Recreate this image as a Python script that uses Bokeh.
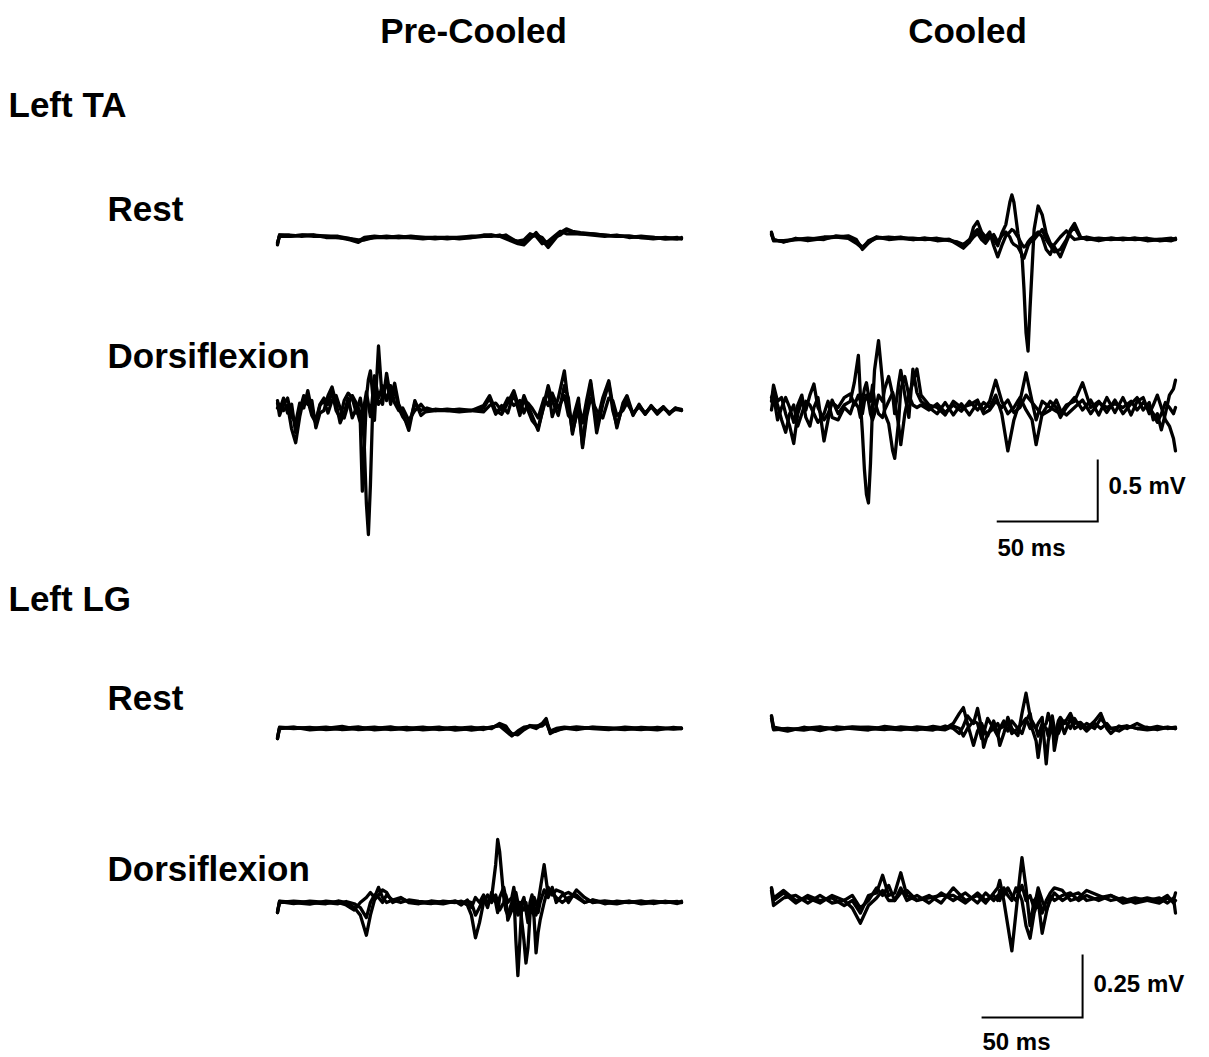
from bokeh.plotting import figure
from bokeh.models import Range1d
from bokeh.core.properties import value
from bokeh.embed import file_html
from bokeh.resources import INLINE

# ---------------------------------------------------------------- labels
column_titles = ["Pre-Cooled", "Cooled"]
muscle_names = ["Left TA", "Left LG"]
condition_names = ["Rest", "Dorsiflexion"]

# calibration bars
SCALE_MS = 50
SCALE_TA_MV = 0.5
SCALE_LG_MV = 0.25

# ---------------------------------------------------------------- EMG sweeps (time in ms, amplitude in mV)
# Left TA, rest, pre-cooled
t_ta_rest_pre = [0, 1, 6, 12, 18, 24, 30, 36, 40, 43, 48, 54, 60, 66, 72, 78, 84, 90, 96, 102,
                 106, 110, 113, 116, 119, 122, 125, 128, 131, 134, 137, 140, 143, 146, 150, 156, 162, 168, 174, 180,
                 186, 192, 198, 200]
ta_rest_pre_1 = [-0.05, 0.02, 0.02, 0.01, 0.02, 0.01, 0.0, -0.02, -0.04, -0.01, 0.0, 0.01, 0.0, 0.0, -0.01, 0.0, 0.0, -0.01, 0.0, 0.01,
                 0.02, 0.01, -0.01, -0.03, -0.05, -0.06, -0.01, 0.04, -0.02, -0.08, -0.02, 0.04, 0.07, 0.05, 0.04, 0.03, 0.02, 0.01, 0.01, 0.0,
                 -0.01, 0.0, -0.01, -0.01]
ta_rest_pre_2 = [-0.04, 0.01, 0.01, 0.02, 0.01, 0.01, 0.01, -0.01, -0.03, 0.0, 0.01, 0.0, 0.0, 0.01, 0.0, 0.0, -0.01, 0.0, 0.01, 0.01,
                 0.01, 0.02, 0.0, -0.02, -0.03, -0.02, 0.03, 0.01, -0.05, -0.03, 0.01, 0.05, 0.03, 0.03, 0.03, 0.02, 0.01, 0.02, 0.0, 0.01,
                 0.0, -0.01, 0.0, -0.01]
ta_rest_pre_3 = [-0.06, 0.02, 0.01, 0.02, 0.02, 0.0, 0.0, -0.01, -0.02, -0.02, 0.0, 0.0, 0.01, 0.0, 0.0, -0.01, 0.0, 0.0, 0.0, 0.02,
                 0.02, 0.01, 0.02, -0.01, -0.04, -0.04, 0.0, 0.02, 0.0, -0.06, 0.0, 0.02, 0.06, 0.04, 0.03, 0.03, 0.02, 0.01, 0.01, 0.0,
                 0.0, -0.01, -0.01, 0.0]

# Left TA, rest, cooled
t_ta_rest_cool = [0, 1, 6, 12, 18, 26, 32, 38, 42, 45, 48, 52, 58, 64, 70, 76, 82, 88, 92, 95,
                  98, 100, 102, 104, 106, 108, 110, 112, 114, 116, 118, 119, 120, 122, 124, 125, 126, 127, 128, 130,
                  132, 134, 136, 138, 140, 143, 146, 148, 150, 153, 156, 162, 168, 174, 180, 186, 192, 198, 200]
ta_rest_cool_1 = [0.06, 0.0, -0.02, 0.01, -0.01, 0.01, 0.02, 0.03, 0.0, -0.08, -0.03, 0.02, 0.01, 0.02, 0.0, 0.01, -0.01, 0.0, -0.03, -0.05,
                  -0.02, 0.02, 0.05, 0.0, -0.03, 0.02, 0.04, -0.02, 0.03, 0.06, 0.02, -0.02, -0.04, -0.06, -0.12, -0.4, -0.75, -0.9, -0.55, 0.08,
                  0.27, 0.2, 0.05, -0.03, -0.06, -0.14, -0.02, 0.06, 0.1, 0.01, 0.01, -0.01, 0.01, 0.0, 0.01, -0.01, 0.0, 0.01, 0.0]
ta_rest_cool_2 = [0.05, -0.01, -0.01, 0.0, 0.01, 0.0, 0.03, 0.02, -0.02, -0.06, -0.02, 0.01, 0.02, 0.01, 0.01, 0.0, 0.01, -0.01, -0.02, -0.04,
                  0.0, 0.05, 0.08, 0.03, 0.0, 0.04, 0.0, -0.05, 0.05, 0.12, 0.3, 0.36, 0.3, 0.05, -0.14, -0.15, -0.1, -0.05, -0.02, 0.0,
                  0.04, 0.08, 0.0, -0.05, -0.1, -0.08, 0.0, 0.08, 0.13, 0.02, 0.0, 0.01, 0.0, 0.01, 0.0, 0.01, -0.01, 0.0, 0.01]
ta_rest_cool_3 = [0.04, 0.0, -0.02, 0.0, 0.0, 0.02, 0.02, 0.01, -0.03, -0.07, -0.01, 0.02, 0.0, 0.01, 0.0, 0.01, 0.0, 0.0, -0.04, -0.07,
                  -0.02, 0.1, 0.145, 0.06, 0.02, 0.06, -0.05, -0.14, -0.05, 0.03, 0.06, 0.08, 0.07, 0.02, -0.04, -0.06, -0.05, -0.02, 0.0, 0.03,
                  0.06, 0.02, -0.08, -0.12, -0.04, 0.02, 0.07, 0.03, 0.0, 0.01, 0.02, 0.0, 0.01, 0.0, 0.01, 0.0, 0.0, -0.01, 0.0]

# Left TA, dorsiflexion, pre-cooled
t_ta_dorsi_pre = [0, 1, 3, 5, 7, 9, 11, 13, 15, 17, 19, 21, 23, 25, 27, 29, 31, 33, 35, 37,
                  39, 41, 42, 43, 44, 45, 46, 47, 48, 50, 52, 54, 56, 58, 60, 62, 65, 68, 71, 74,
                  78, 84, 90, 96, 102, 105, 108, 111, 114, 117, 120, 122, 124, 126, 129, 132, 134, 136, 139, 142,
                  144, 146, 149, 151, 153, 155, 158, 161, 164, 166, 168, 171, 173, 176, 179, 182, 185, 188, 191, 194,
                  197, 200]
ta_dorsi_pre_1 = [0.06, -0.04, 0.05, 0.1, -0.05, -0.1, 0.06, 0.02, 0.16, 0.0, -0.08, 0.05, 0.1, 0.05, 0.15, 0.0, -0.06, 0.08, 0.14, 0.1,
                  -0.02, 0.1, 0.0, -0.3, -0.75, -1.0, -0.6, -0.05, 0.2, 0.05, 0.1, 0.25, 0.05, 0.18, 0.02, -0.05, -0.12, 0.06, 0.0, 0.02,
                  0.0, 0.01, 0.0, 0.0, 0.02, 0.1, -0.03, 0.04, -0.02, 0.14, -0.04, 0.1, 0.0, -0.08, -0.14, 0.04, 0.18, -0.05, 0.1, 0.32,
                  0.05, -0.17, 0.02, -0.28, 0.0, 0.22, -0.18, 0.05, 0.22, 0.0, -0.12, 0.04, 0.1, -0.04, 0.05, -0.03, 0.04, -0.02, 0.03, -0.03,
                  0.02, 0.0]
ta_dorsi_pre_2 = [0.02, 0.05, 0.0, 0.04, -0.15, -0.26, -0.05, 0.1, 0.05, 0.08, -0.14, -0.02, 0.0, 0.12, 0.19, 0.06, -0.1, -0.02, 0.1, -0.06,
                  0.02, -0.1, -0.65, -0.3, 0.1, 0.25, 0.32, 0.15, -0.08, 0.52, 0.05, 0.3, 0.1, 0.22, 0.05, -0.02, -0.16, 0.08, -0.04, 0.0,
                  0.01, 0.0, -0.01, 0.0, 0.04, 0.12, 0.0, -0.03, 0.06, 0.16, 0.0, 0.12, 0.04, -0.04, -0.16, 0.06, 0.2, 0.08, -0.04, 0.2,
                  0.1, -0.19, 0.06, -0.1, 0.08, 0.24, -0.1, 0.1, 0.24, 0.04, -0.14, 0.06, 0.12, -0.03, 0.04, -0.02, 0.03, -0.03, 0.02, -0.02,
                  0.02, 0.01]
ta_dorsi_pre_3 = [0.08, 0.0, 0.1, -0.02, 0.05, -0.18, 0.0, 0.12, 0.08, -0.04, -0.1, 0.04, 0.08, -0.02, 0.08, 0.12, 0.02, -0.06, 0.05, 0.12,
                  0.06, -0.02, -0.1, 0.05, 0.15, 0.05, -0.05, 0.1, 0.28, 0.1, 0.2, 0.08, 0.2, 0.06, 0.0, 0.02, -0.08, 0.0, 0.05, -0.01,
                  0.0, 0.0, 0.01, 0.0, -0.01, 0.04, 0.06, 0.0, 0.1, 0.04, 0.08, -0.02, 0.06, 0.02, -0.06, 0.1, 0.04, 0.14, 0.02, 0.12,
                  -0.04, -0.08, 0.1, -0.3, -0.05, 0.1, 0.0, -0.06, 0.1, 0.08, -0.04, 0.0, 0.06, -0.02, 0.03, -0.03, 0.03, -0.01, 0.03, -0.02,
                  0.01, 0.0]

# Left TA, dorsiflexion, cooled
t_ta_dorsi_cool = [0, 1, 3, 5, 7, 9, 11, 13, 15, 17, 19, 21, 23, 26, 28, 30, 33, 36, 39, 41,
                   43, 44, 45, 46, 47, 48, 49, 50, 51, 53, 55, 56, 58, 60, 61, 63, 64, 66, 68, 70,
                   72, 74, 78, 82, 86, 90, 94, 98, 102, 105, 108, 111, 114, 117, 120, 123, 126, 129, 131, 134,
                   138, 141, 143, 146, 150, 154, 158, 162, 166, 170, 174, 178, 181, 184, 187, 189, 191, 193, 195, 197,
                   199, 200]
ta_dorsi_cool_1 = [0.05, 0.18, 0.05, 0.08, -0.05, -0.15, -0.29, -0.05, 0.05, -0.02, 0.1, 0.19, 0.0, -0.1, -0.05, 0.04, 0.0, 0.08, 0.11, 0.02,
                   0.1, 0.05, -0.2, -0.5, -0.7, -0.77, -0.45, 0.0, 0.3, 0.54, 0.2, -0.05, -0.13, -0.35, -0.41, -0.1, 0.15, 0.25, 0.1, 0.02,
                   0.0, 0.02, -0.02, 0.03, -0.04, 0.02, -0.03, 0.05, -0.02, 0.04, 0.0, 0.1, -0.05, -0.35, -0.1, 0.05, 0.28, 0.05, -0.1, 0.05,
                   0.0, -0.03, -0.05, 0.02, 0.05, 0.2, 0.0, 0.05, -0.04, 0.06, -0.05, 0.03, 0.08, -0.02, 0.04, -0.1, -0.05, -0.18, -0.05, 0.1,
                   0.15, 0.22]
ta_dorsi_cool_2 = [-0.02, 0.1, -0.1, 0.0, 0.08, 0.0, -0.12, 0.02, 0.1, -0.08, -0.15, 0.0, 0.08, -0.27, -0.1, 0.06, -0.05, 0.02, 0.05, 0.2,
                   0.42, 0.1, -0.05, 0.05, 0.1, 0.05, -0.05, -0.1, -0.05, 0.1, 0.05, 0.15, 0.25, 0.1, -0.05, 0.2, 0.3, 0.1, -0.08, 0.31,
                   0.12, 0.05, 0.0, -0.05, 0.04, -0.06, 0.03, -0.06, 0.04, -0.02, 0.05, 0.22, 0.05, -0.05, 0.0, 0.08, -0.02, -0.1, -0.3, -0.05,
                   0.05, 0.0, -0.08, 0.0, 0.08, -0.02, 0.06, -0.06, 0.08, -0.04, 0.08, -0.06, 0.05, 0.08, -0.05, 0.02, 0.1, 0.0, -0.1, -0.15,
                   -0.25, -0.35]
ta_dorsi_cool_3 = [0.08, 0.12, 0.02, -0.1, -0.2, -0.05, 0.02, -0.15, -0.05, 0.05, 0.02, -0.05, -0.12, -0.05, 0.05, -0.08, -0.1, 0.0, -0.05, 0.05,
                   0.0, -0.08, 0.05, 0.15, 0.2, 0.1, 0.05, 0.18, 0.05, -0.05, -0.08, -0.02, 0.05, 0.12, 0.05, -0.15, -0.3, -0.05, 0.1, 0.2,
                   0.31, 0.1, 0.02, 0.0, -0.06, 0.05, 0.0, 0.02, 0.06, -0.05, -0.02, 0.05, 0.0, 0.06, -0.04, 0.0, 0.1, 0.04, 0.0, -0.06,
                   -0.02, 0.06, -0.02, -0.06, 0.0, 0.06, -0.05, 0.04, 0.0, 0.03, 0.0, 0.05, -0.02, 0.04, 0.0, -0.05, -0.12, -0.05, 0.04, 0.0,
                   -0.05, 0.0]

# Left LG, rest, pre-cooled
t_lg_rest_pre = [0, 1, 8, 16, 24, 32, 40, 48, 56, 64, 72, 80, 88, 96, 102, 106, 110, 113, 116, 119,
                 122, 125, 128, 131, 133, 135, 138, 142, 148, 156, 164, 172, 180, 188, 196, 200]
lg_rest_pre_1 = [-0.04, 0.0, 0.005, -0.005, 0.0, 0.008, -0.004, 0.0, 0.006, -0.005, 0.0, 0.005, -0.006, 0.0, 0.004, 0.0, 0.02, 0.01, -0.025, -0.02,
                 0.0, 0.012, 0.005, 0.02, 0.04, -0.02, -0.005, 0.0, 0.006, 0.0, -0.004, 0.005, 0.0, -0.005, 0.004, 0.0]
lg_rest_pre_2 = [-0.035, 0.005, 0.0, 0.004, -0.004, 0.0, 0.006, -0.005, 0.0, 0.004, -0.005, 0.0, 0.004, -0.006, 0.0, 0.006, 0.01, -0.01, -0.03, -0.01,
                 0.005, 0.008, 0.0, 0.015, 0.03, -0.01, 0.0, 0.005, 0.0, 0.004, 0.0, -0.004, 0.004, 0.0, 0.0, 0.002]
lg_rest_pre_3 = [-0.04, 0.003, 0.004, 0.0, 0.005, -0.004, 0.0, 0.005, -0.004, 0.0, 0.005, -0.004, 0.0, 0.005, -0.004, 0.004, 0.015, 0.0, -0.02, -0.025,
                 -0.005, 0.01, 0.01, 0.01, 0.025, -0.015, -0.01, 0.002, -0.004, 0.005, 0.002, 0.0, -0.004, 0.004, -0.002, 0.0]

# Left LG, rest, cooled
t_lg_rest_cool = [0, 1, 8, 16, 24, 32, 40, 48, 56, 64, 72, 80, 86, 90, 93, 95, 97, 100, 102, 104,
                  105, 107, 110, 112, 113, 115, 117, 119, 122, 124, 126, 128, 129, 131, 132, 134, 136, 137, 139, 140,
                  142, 143, 145, 148, 150, 153, 156, 160, 163, 166, 168, 172, 176, 181, 186, 191, 196, 200]
lg_rest_cool_1 = [0.05, 0.0, -0.01, 0.005, -0.008, 0.006, 0.0, -0.006, 0.008, 0.0, -0.005, 0.008, 0.0, 0.02, 0.06, 0.083, 0.02, -0.067, -0.01, 0.02,
                  0.0, -0.03, 0.03, -0.02, -0.067, -0.02, 0.044, 0.0, -0.028, 0.06, 0.14, 0.05, 0.0, -0.05, -0.115, 0.0, 0.02, 0.06, 0.0, -0.04,
                  0.03, 0.044, 0.02, 0.06, 0.02, 0.024, 0.0, 0.03, 0.06, 0.0, -0.02, 0.01, 0.0, 0.02, 0.0, 0.008, 0.0, 0.005]
lg_rest_cool_2 = [0.04, -0.005, 0.0, -0.006, 0.004, 0.0, 0.006, 0.0, -0.004, 0.006, 0.0, -0.006, 0.01, 0.0, -0.02, 0.01, 0.05, 0.02, 0.08, 0.0,
                  -0.075, -0.02, 0.0, 0.02, 0.0, 0.03, -0.01, 0.03, 0.0, 0.02, 0.04, 0.0, 0.03, 0.0, 0.02, 0.044, -0.14, -0.05, 0.03, -0.087,
                  0.0, 0.03, -0.02, 0.04, 0.0, 0.015, -0.01, 0.02, 0.0, 0.02, 0.0, -0.01, 0.01, 0.0, 0.005, -0.005, 0.004, 0.0]
lg_rest_cool_3 = [0.05, 0.005, -0.005, 0.0, 0.006, -0.005, 0.004, 0.005, 0.0, -0.005, 0.006, 0.0, -0.005, 0.01, 0.0, -0.03, 0.0, 0.03, 0.02, -0.04,
                  -0.02, 0.04, 0.0, -0.03, 0.0, 0.01, 0.02, -0.02, 0.0, -0.02, 0.03, 0.06, 0.02, 0.0, -0.03, 0.02, 0.0, -0.03, 0.05, 0.0,
                  -0.02, 0.0, 0.03, 0.0, 0.04, 0.0, 0.02, 0.0, 0.04, 0.01, 0.0, 0.005, 0.01, 0.0, -0.005, 0.0, 0.005, 0.0]

# Left LG, dorsiflexion, pre-cooled
t_lg_dorsi_pre = [0, 1, 8, 16, 24, 30, 34, 38, 41, 44, 46, 48, 50, 52, 54, 57, 61, 65, 70, 76,
                  82, 88, 91, 94, 96, 98, 100, 102, 104, 106, 108, 109, 110, 112, 113, 114, 116, 117, 118, 119,
                  120, 121, 122, 123, 124, 125, 126, 127, 128, 129, 130, 132, 134, 136, 138, 141, 144, 148, 152, 156,
                  162, 168, 174, 180, 186, 192, 198, 200]
lg_dorsi_pre_1 = [-0.04, 0.005, 0.0, -0.006, 0.005, 0.0, -0.01, -0.03, 0.0, 0.02, 0.04, 0.02, 0.06, 0.02, 0.0, 0.01, 0.02, 0.0, -0.005, 0.006,
                  0.0, 0.005, -0.01, 0.01, -0.02, 0.02, 0.0, 0.03, 0.0, 0.02, 0.15, 0.25, 0.2, 0.02, -0.03, -0.05, 0.0, 0.04, -0.15, -0.29,
                  -0.15, 0.0, 0.02, -0.03, -0.08, 0.0, 0.03, -0.02, -0.05, 0.0, 0.05, 0.15, 0.03, 0.04, 0.02, 0.0, 0.02, 0.03, 0.0, 0.01,
                  -0.005, 0.005, 0.0, 0.006, -0.004, 0.004, 0.0, 0.005]
lg_dorsi_pre_2 = [-0.035, 0.0, 0.005, 0.0, -0.005, 0.006, 0.0, -0.02, -0.05, -0.13, -0.05, 0.01, 0.03, 0.05, 0.04, 0.0, 0.015, 0.005, 0.0, -0.004,
                  0.005, 0.0, 0.005, -0.01, -0.05, -0.14, -0.08, 0.0, 0.03, 0.0, 0.03, 0.0, -0.03, 0.0, 0.03, 0.0, 0.02, 0.06, 0.0, -0.05,
                  0.0, -0.08, -0.15, -0.24, -0.18, -0.05, 0.0, -0.06, -0.2, -0.12, -0.07, 0.0, 0.06, 0.03, 0.05, 0.04, 0.0, 0.05, 0.02, 0.0,
                  0.006, 0.0, 0.005, -0.005, 0.0, 0.004, -0.004, 0.0]
lg_dorsi_pre_3 = [-0.04, 0.004, -0.004, 0.005, 0.0, -0.005, 0.004, -0.005, -0.02, -0.06, 0.0, 0.03, 0.02, 0.0, 0.03, 0.01, 0.0, 0.01, 0.004, 0.0,
                  -0.005, 0.005, 0.0, 0.005, 0.0, -0.05, -0.02, 0.02, -0.02, 0.04, 0.0, -0.04, 0.02, 0.06, 0.02, -0.07, -0.03, 0.0, 0.04, 0.0,
                  -0.04, -0.02, -0.03, 0.0, -0.06, -0.02, -0.02, 0.02, 0.0, -0.04, 0.0, 0.05, 0.02, 0.06, 0.0, 0.03, 0.04, 0.02, 0.0, 0.01,
                  0.0, -0.005, 0.004, 0.0, 0.005, 0.0, 0.004, 0.0]

# Left LG, dorsiflexion, cooled
t_lg_dorsi_cool = [0, 1, 6, 12, 18, 24, 30, 36, 40, 44, 48, 52, 55, 58, 61, 64, 67, 72, 78, 84,
                   90, 96, 102, 106, 110, 112, 113, 115, 117, 119, 121, 123, 124, 126, 128, 130, 132, 134, 136, 138,
                   140, 144, 148, 152, 156, 162, 168, 174, 180, 186, 192, 196, 199, 200]
lg_dorsi_cool_1 = [0.05, 0.0, 0.03, -0.01, 0.02, 0.0, 0.01, -0.02, 0.0, -0.05, 0.02, 0.03, 0.1, 0.02, 0.03, 0.11, 0.02, 0.0, 0.02, -0.01,
                   0.05, 0.0, 0.02, -0.01, 0.03, 0.05, 0.08, 0.0, -0.1, -0.2, -0.05, 0.1, 0.17, 0.05, -0.1, 0.0, 0.02, -0.05, 0.0, 0.03,
                   0.05, 0.04, 0.0, 0.01, 0.04, 0.02, 0.0, 0.01, -0.01, 0.0, 0.01, -0.01, 0.01, -0.05]
lg_dorsi_cool_2 = [0.04, -0.02, 0.01, 0.02, -0.01, 0.02, -0.01, 0.0, -0.03, -0.09, -0.02, 0.01, 0.04, 0.0, 0.0, 0.05, 0.0, 0.02, -0.01, 0.03,
                   0.0, 0.03, -0.01, 0.03, 0.0, 0.02, 0.0, 0.05, 0.02, 0.0, 0.05, 0.02, 0.0, -0.1, -0.15, -0.05, 0.0, -0.13, -0.05, 0.02,
                   0.0, 0.02, 0.03, 0.0, 0.02, 0.0, 0.02, 0.0, 0.01, 0.0, -0.01, 0.01, 0.0, 0.03]
lg_dorsi_cool_3 = [0.05, 0.01, 0.04, 0.0, 0.01, -0.01, 0.02, 0.0, 0.02, -0.03, 0.0, 0.05, 0.02, 0.06, 0.0, 0.03, 0.04, 0.0, 0.01, 0.02,
                   0.02, -0.01, 0.03, 0.0, 0.02, 0.0, 0.04, 0.02, 0.05, 0.02, 0.0, 0.04, 0.06, 0.0, 0.02, -0.03, 0.05, 0.0, -0.04, 0.0,
                   0.03, 0.0, 0.02, 0.03, 0.0, 0.01, 0.02, -0.01, 0.0, 0.01, 0.0, 0.02, -0.01, 0.0]

# ---------------------------------------------------------------- page geometry
W, H = 1209, 1057
PX_PER_MS = 2.02
TA_PX_PER_MV = 124.0
LG_PX_PER_MV = 252.0
COLUMN_LEFT = {"pre": 277, "cool": 771}

# name, time base, sweeps, column, baseline (px from top), px per mV
panels = [
    ("ta_rest_pre", t_ta_rest_pre, [ta_rest_pre_1, ta_rest_pre_2, ta_rest_pre_3], "pre", 237, TA_PX_PER_MV),
    ("ta_rest_cool", t_ta_rest_cool, [ta_rest_cool_1, ta_rest_cool_2, ta_rest_cool_3], "cool", 239, TA_PX_PER_MV),
    ("ta_dorsi_pre", t_ta_dorsi_pre, [ta_dorsi_pre_1, ta_dorsi_pre_2, ta_dorsi_pre_3], "pre", 410, TA_PX_PER_MV),
    ("ta_dorsi_cool", t_ta_dorsi_cool, [ta_dorsi_cool_1, ta_dorsi_cool_2, ta_dorsi_cool_3], "cool", 407, TA_PX_PER_MV),
    ("lg_rest_pre", t_lg_rest_pre, [lg_rest_pre_1, lg_rest_pre_2, lg_rest_pre_3], "pre", 728, LG_PX_PER_MV),
    ("lg_rest_cool", t_lg_rest_cool, [lg_rest_cool_1, lg_rest_cool_2, lg_rest_cool_3], "cool", 728, LG_PX_PER_MV),
    ("lg_dorsi_pre", t_lg_dorsi_pre, [lg_dorsi_pre_1, lg_dorsi_pre_2, lg_dorsi_pre_3], "pre", 902, LG_PX_PER_MV),
    ("lg_dorsi_cool", t_lg_dorsi_cool, [lg_dorsi_cool_1, lg_dorsi_cool_2, lg_dorsi_cool_3], "cool", 900, LG_PX_PER_MV),
]

p = figure(width=W, height=H, x_range=Range1d(0, W), y_range=Range1d(H, 0),
           output_backend="svg", toolbar_location=None, min_border=0,
           x_axis_location=None, y_axis_location=None,
           background_fill_color="white", border_fill_color="white")
p.outline_line_color = None
p.grid.visible = False

# one time axis per column, one amplitude axis per panel
for col, left in COLUMN_LEFT.items():
    p.extra_x_ranges[col] = Range1d(-left / PX_PER_MS, (W - left) / PX_PER_MS)
for name, t, sweeps, col, base, px_mv in panels:
    p.extra_y_ranges[name] = Range1d((base - H) / px_mv, base / px_mv)

TRACE = dict(line_color="black", line_width=3.3, line_join="round", line_cap="round")
for name, t, sweeps, col, base, px_mv in panels:
    for v in sweeps:
        p.line(t, v, x_range_name=col, y_range_name=name, **TRACE)

# calibration bars (drawn in the units of the panel above them)
BAR = dict(line_color="black", line_width=2, line_join="miter")
ta_bar_t, ta_bar_v = 111.5, -0.92
p.line([ta_bar_t, ta_bar_t + SCALE_MS, ta_bar_t + SCALE_MS],
       [ta_bar_v, ta_bar_v, ta_bar_v + SCALE_TA_MV],
       x_range_name="cool", y_range_name="ta_dorsi_cool", **BAR)
lg_bar_t, lg_bar_v = 104, -0.464
p.line([lg_bar_t, lg_bar_t + SCALE_MS, lg_bar_t + SCALE_MS],
       [lg_bar_v, lg_bar_v, lg_bar_v + SCALE_LG_MV],
       x_range_name="cool", y_range_name="lg_dorsi_cool", **BAR)

FONT = value("Liberation Sans")
BIG = dict(text_font=FONT, text_font_size="35px", text_font_style="bold",
           text_baseline="middle", text_color="black")
SMALL = dict(text_font=FONT, text_font_size="24px", text_font_style="bold",
             text_baseline="middle", text_align="left", text_color="black")

# column titles
p.text(x=[473, 967], y=[30, 30], text=column_titles, text_align="center", **BIG)
# muscle labels
p.text(x=[8, 8], y=[104, 598], text=muscle_names, text_align="left", **BIG)
# condition labels
p.text(x=[107, 107, 107, 107], y=[208, 355, 697, 868],
       text=condition_names + condition_names, text_align="left", **BIG)
# calibration labels
p.text(x=[1108, 1093], y=[485, 983],
       text=[f"{SCALE_TA_MV:g} mV", f"{SCALE_LG_MV:g} mV"], **SMALL)
p.text(x=[997, 982], y=[547, 1041],
       text=[f"{SCALE_MS}  ms", f"{SCALE_MS}  ms"], **SMALL)

open("out.html", "w").write(file_html(p, INLINE))
